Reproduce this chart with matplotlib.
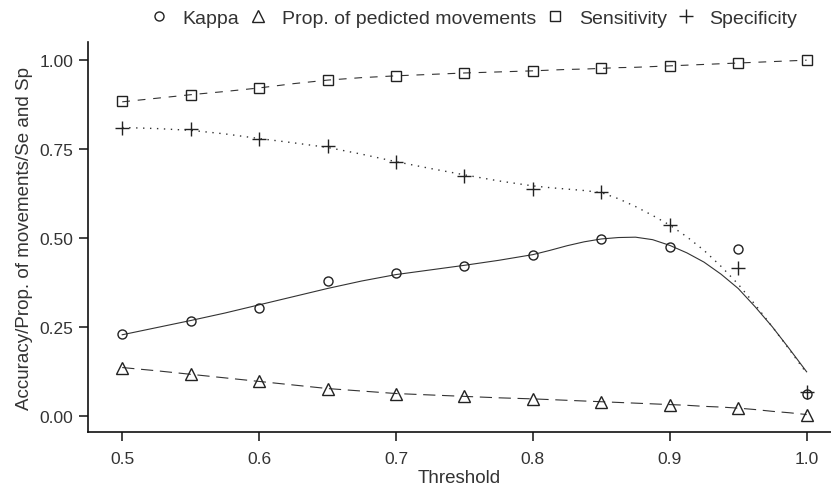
import numpy as np
import matplotlib
matplotlib.use('Agg')
import matplotlib.pyplot as plt
from matplotlib.lines import Line2D

plt.rcParams['font.family'] = ['Liberation Sans', 'DejaVu Sans']

# 数据点
threshold = [0.5, 0.55, 0.6, 0.65, 0.7, 0.75, 0.8, 0.85, 0.9, 0.95, 1.0]
kappa = [0.230, 0.267, 0.303, 0.379, 0.402, 0.421, 0.452, 0.497, 0.475, 0.469, 0.062]
prop_pred = [0.136, 0.118, 0.098, 0.076, 0.063, 0.055, 0.048, 0.040, 0.032, 0.023, 0.004]
sensitivity = [0.884, 0.902, 0.921, 0.944, 0.955, 0.963, 0.969, 0.976, 0.983, 0.992, 0.999]
specificity = [0.809, 0.806, 0.778, 0.758, 0.713, 0.674, 0.638, 0.629, 0.537, 0.416, 0.067]

# 平滑曲线
fit_x = [0.5, 0.525, 0.55, 0.575, 0.6, 0.625, 0.65, 0.675, 0.7, 0.725, 0.75, 0.775, 0.8,
         0.8125, 0.825, 0.8375, 0.85, 0.8625, 0.875, 0.8875, 0.9, 0.9125, 0.925, 0.9375,
         0.95, 0.9625, 0.975, 0.9875, 1.0]
kappa_fit = [0.228, 0.248, 0.268, 0.289, 0.312, 0.335, 0.358, 0.379, 0.397, 0.410, 0.423, 0.437, 0.453,
             0.465, 0.478, 0.489, 0.497, 0.501, 0.502, 0.495, 0.479, 0.458, 0.432, 0.398,
             0.358, 0.306, 0.250, 0.188, 0.124]
prop_fit = [0.136, 0.127, 0.117, 0.107, 0.097, 0.087, 0.077, 0.070, 0.063, 0.059, 0.055, 0.051, 0.048,
            0.046, 0.044, 0.042, 0.040, 0.038, 0.036, 0.034, 0.032, 0.030, 0.027, 0.025,
            0.022, 0.018, 0.013, 0.009, 0.004]
sens_fit = [0.882, 0.892, 0.902, 0.911, 0.921, 0.933, 0.943, 0.950, 0.955, 0.959, 0.963, 0.966, 0.969,
            0.971, 0.973, 0.974, 0.976, 0.978, 0.979, 0.981, 0.983, 0.985, 0.987, 0.989,
            0.991, 0.993, 0.995, 0.997, 0.999]
spec_fit = [0.810, 0.807, 0.802, 0.792, 0.779, 0.767, 0.754, 0.735, 0.714, 0.695, 0.677, 0.660, 0.646,
            0.641, 0.637, 0.633, 0.627, 0.610, 0.588, 0.563, 0.536, 0.503, 0.465, 0.420,
            0.370, 0.312, 0.250, 0.186, 0.120]

ink = '#222222'
line_c = '#333333'

fig = plt.figure(figsize=(8.31, 4.85), dpi=100)
ax = fig.add_axes([88/831, 52/485, 1 - 88/831, 390/485])

ax.plot(fit_x, sens_fit, color=line_c, lw=0.8, dashes=(7, 7))
ax.plot(fit_x, prop_fit, color=line_c, lw=0.8, dashes=(11, 6))
ax.plot(fit_x, spec_fit, color=line_c, lw=1.0, dashes=(1, 4))
ax.plot(fit_x, kappa_fit, color=line_c, lw=0.8, linestyle='-')

mk = dict(linestyle='none', markerfacecolor='none', markeredgecolor=ink, markeredgewidth=1.0)
ax.plot(threshold, kappa, marker='o', markersize=6.5, **mk)
ax.plot(threshold, prop_pred, marker='^', markersize=8, **mk)
ax.plot(threshold, sensitivity, marker='s', markersize=7, **mk)
ax.plot(threshold, specificity, marker='+', markersize=10.5, **mk)

ax.set_xlim(0.475, 1.0178)
ax.set_ylim(-0.045, 1.05)
ax.set_xticks([0.5, 0.6, 0.7, 0.8, 0.9, 1.0])
ax.set_xticklabels(['0.5', '0.6', '0.7', '0.8', '0.9', '1.0'])
ax.set_yticks([0, 0.25, 0.5, 0.75, 1.0])
ax.set_yticklabels(['0.00', '0.25', '0.50', '0.75', '1.00'])

for s in ['top', 'right']:
    ax.spines[s].set_visible(False)
for s in ['left', 'bottom']:
    ax.spines[s].set_linewidth(1.2)
    ax.spines[s].set_color('#111111')
ax.tick_params(axis='both', length=6.5, width=1.1, color='#111111', labelsize=12.5,
               labelcolor='#333333')
ax.tick_params(axis='x', pad=7)
ax.tick_params(axis='y', pad=4)

ax.set_xlabel('Threshold', fontsize=13.5, color='#333333', labelpad=2)
ax.set_ylabel('Accuracy/Prop. of movements/Se and Sp', fontsize=13.5, color='#333333', labelpad=5)

handles = [
    Line2D([], [], marker='o', markersize=6.5, **mk),
    Line2D([], [], marker='^', markersize=8, **mk),
    Line2D([], [], marker='s', markersize=7, **mk),
    Line2D([], [], marker='+', markersize=10.5, **mk),
]
labels = ['Kappa', 'Prop. of pedicted movements', 'Sensitivity', 'Specificity']
fig.legend(handles, labels, loc='center right', bbox_to_anchor=(0.969, 0.961), ncol=4,
           frameon=False, fontsize=14, handlelength=1.0, handletextpad=0.7,
           columnspacing=0.5, labelcolor='#333333', borderaxespad=0)

fig.savefig('out.png', dpi=100)
